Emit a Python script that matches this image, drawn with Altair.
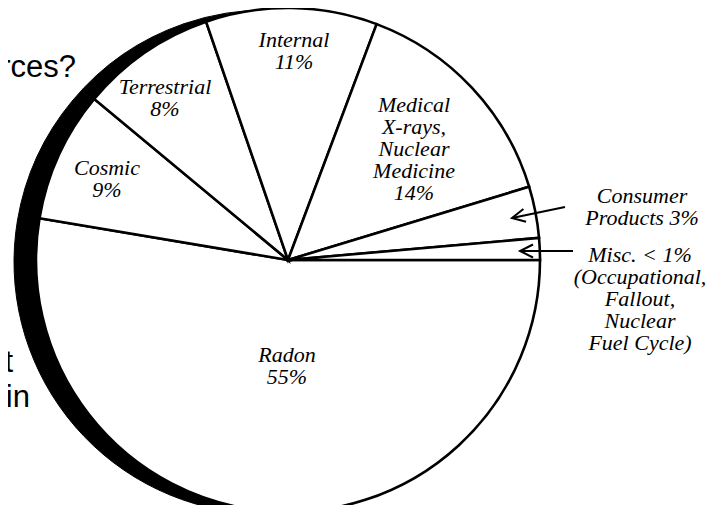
import math
import altair as alt
import pandas as pd

sources = ["Radon", "Cosmic", "Terrestrial", "Internal", "Medical", "Consumer", "Misc"]
shares = [52.7, 8.4, 8.7, 11.0, 14.6, 3.3, 1.4]
slice_order = [0, 1, 2, 3, 4, 5, 6]

label_text = [
    "Radon\n55%",
    "Cosmic\n9%",
    "Terrestrial\n8%",
    "Internal\n11%",
    "Medical\nX-rays,\nNuclear\nMedicine\n14%",
    "Consumer\nProducts 3%",
    "Misc. < 1%\n(Occupational,\nFallout,\nNuclear\nFuel Cycle)",
]

slide_text = ["rces?", "ot", "s in"]

# ---- layout (page pixels; the page margin is subtracted below) ----
M = 8
CX, CY, R = 288, 260, 252
SHADOW_X, SHADOW_Y = 266, 262
label_x = [287, 107, 165, 294, 414, 642, 640]
label_y = [362, 175, 94, 47, 112, 203, 262]
slide_x = [76, 13, 30]
slide_y = [77, 372, 407]
arrow_x = [565, 573]
arrow_y = [207, 251]
arrow_x2 = [512, 520]
arrow_y2 = [218, 251]
arrow_angle = [348.2, 0]

pie_df = pd.DataFrame({"source": sources, "share": shares, "order": slice_order})
lab_df = pd.DataFrame({"text": label_text,
                       "x": [v - M for v in label_x],
                       "y": [v - M for v in label_y]})
slide_df = pd.DataFrame({"text": slide_text,
                         "x": [v - M for v in slide_x],
                         "y": [v - M for v in slide_y]})
arr_df = pd.DataFrame({"x": [v - M for v in arrow_x], "y": [v - M for v in arrow_y],
                       "x2": [v - M for v in arrow_x2], "y2": [v - M for v in arrow_y2],
                       "angle": arrow_angle})

theta = alt.Theta("share:Q", stack=True,
                  scale=alt.Scale(range=[math.pi / 2, math.pi / 2 + 2 * math.pi]))
order = alt.Order("order:Q", sort="ascending")

shadow = alt.Chart(pie_df).mark_arc(radius=R, fill="black", stroke="black",
                                    strokeWidth=1).encode(
    theta=theta, order=order,
    x=alt.value(SHADOW_X - M), y=alt.value(SHADOW_Y - M))

pie = alt.Chart(pie_df).mark_arc(radius=R, fill="white", stroke="black",
                                 strokeWidth=2.6, strokeJoin="miter").encode(
    theta=theta, order=order,
    x=alt.value(CX - M), y=alt.value(CY - M))

labels = alt.Chart(lab_df).mark_text(
    font="Liberation Serif", fontStyle="italic", fontSize=22, lineHeight=22,
    align="center", baseline="alphabetic", lineBreak="\n", color="black").encode(
    x=alt.X("x:Q", scale=None), y=alt.Y("y:Q", scale=None), text="text:N")

slide = alt.Chart(slide_df).mark_text(
    font="Liberation Sans", fontSize=31, align="right", baseline="alphabetic",
    color="black").encode(
    x=alt.X("x:Q", scale=None), y=alt.Y("y:Q", scale=None), text="text:N")

arrow_lines = alt.Chart(arr_df).mark_rule(color="black", strokeWidth=2).encode(
    x=alt.X("x:Q", scale=None), y=alt.Y("y:Q", scale=None),
    x2="x2:Q", y2="y2:Q")

arrow_heads = alt.Chart(arr_df).mark_point(
    shape="M2,-1L0,0L2,1", filled=False, stroke="black", strokeWidth=2,
    size=169, opacity=1).encode(
    x=alt.X("x2:Q", scale=None), y=alt.Y("y2:Q", scale=None),
    angle=alt.Angle("angle:Q", scale=None))

chart = alt.layer(shadow, pie, labels, slide, arrow_lines, arrow_heads).properties(
    width=726 - 2 * M, height=513 - 2 * M,
    autosize=alt.AutoSizeParams(type="none"), padding=0,
    background="white",
).configure_view(stroke=None)

chart.save("out.html", embed_options={"renderer": "svg", "actions": False})
